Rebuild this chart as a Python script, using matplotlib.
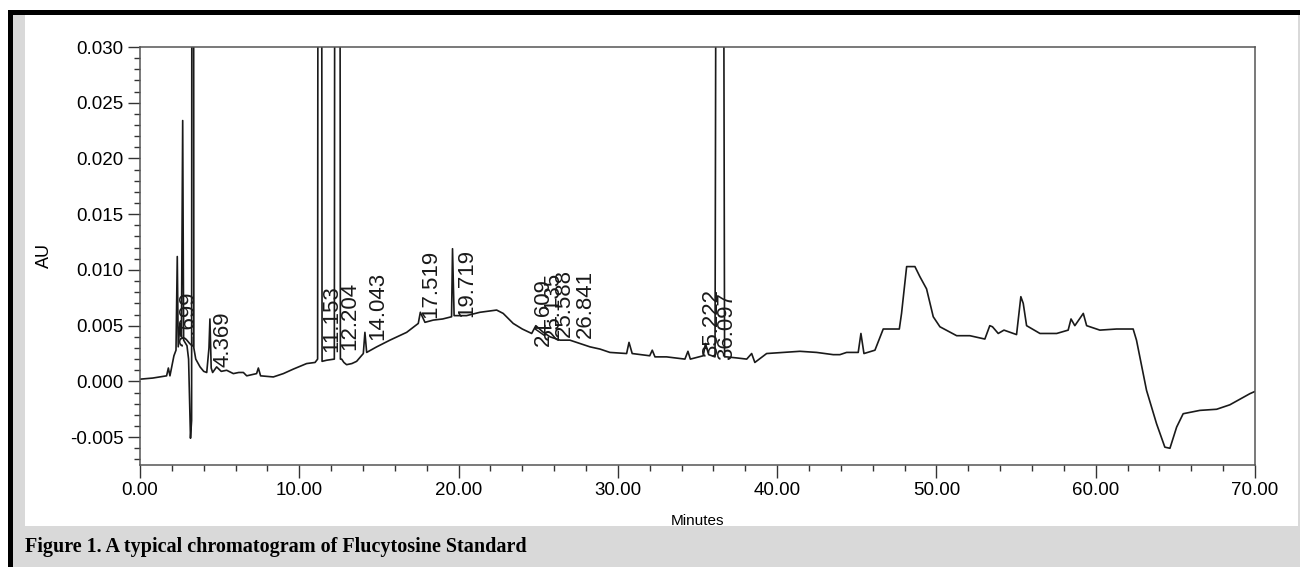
import numpy as np
import matplotlib
matplotlib.use('Agg')
import matplotlib.pyplot as plt
from matplotlib.patches import Rectangle
from matplotlib.ticker import MultipleLocator, FormatStrFormatter

#########################
#
# Chromatogram values
# (minutes, absorbance units); off-scale apexes are estimates
#
#########################

minutes = [0.00, 0.80, 1.67, 1.78, 1.88, 2.13, 2.26, 2.34, 2.40, 2.51,
           2.60, 2.68, 2.74, 2.95, 3.05, 3.17, 3.24, 3.31, 3.38, 3.50,
           3.77, 4.00, 4.19, 4.33, 4.39, 4.47, 4.56, 4.81, 5.10, 5.44,
           5.86, 6.20, 6.49, 6.70, 7.32, 7.43, 7.57, 8.37, 9.00, 9.62,
           10.46, 10.99, 11.15, 11.29, 11.43, 11.72, 12.20, 12.40, 12.58, 12.66,
           12.80, 12.97, 13.30, 13.60, 14.02, 14.12, 14.23, 14.86, 15.69, 16.74,
           17.47, 17.60, 17.89, 18.41, 19.00, 19.56, 19.62, 19.72, 20.50, 21.34,
           22.39, 22.80, 23.43, 24.00, 24.59, 24.85, 25.32, 25.74, 26.37, 26.99,
           27.62, 28.25, 28.88, 29.50, 30.55, 30.70, 30.90, 32.00, 32.16, 32.33,
           33.06, 34.21, 34.40, 34.55, 35.36, 35.50, 35.70, 36.10, 36.40, 36.70,
           36.83, 37.50, 38.09, 38.40, 38.60, 39.34, 40.38, 41.43, 42.48, 43.52,
           43.94, 44.36, 45.09, 45.26, 45.45, 46.14, 46.66, 47.67, 47.81, 48.13,
           48.65, 48.96, 49.38, 49.80, 50.22, 51.27, 52.10, 53.04, 53.35, 53.52,
           53.88, 54.24, 55.03, 55.30, 55.45, 55.66, 56.50, 57.55, 58.27, 58.45,
           58.69, 59.22, 59.43, 60.26, 61.31, 62.35, 62.56, 63.19, 63.82, 64.34,
           64.66, 65.08, 65.49, 66.54, 67.59, 68.42, 69.68, 70.00]

au = [0.0002, 0.0003, 0.0005, 0.0012, 0.0005, 0.0023, 0.0028, 0.0112, 0.0031, 0.0052,
      0.0040, 0.0234, 0.0037, 0.0032, 0.0020, -0.0051, -0.0035, 0.2000, 0.0030, 0.0020,
      0.0013, 0.0009, 0.0008, 0.0030, 0.0056, 0.0012, 0.0008, 0.0013, 0.0009, 0.0010,
      0.0007, 0.0008, 0.0008, 0.0005, 0.0007, 0.0012, 0.0005, 0.0004, 0.0007, 0.0011,
      0.0016, 0.0017, 0.0020, 0.2500, 0.0018, 0.0019, 0.0020, 0.3000, 0.0020, 0.0020,
      0.0017, 0.0015, 0.0016, 0.0018, 0.0025, 0.0044, 0.0026, 0.0031, 0.0037, 0.0044,
      0.0052, 0.0062, 0.0053, 0.0055, 0.0056, 0.0058, 0.0119, 0.0059, 0.0059, 0.0062,
      0.0064, 0.0061, 0.0052, 0.0047, 0.0043, 0.0050, 0.0044, 0.0040, 0.0037, 0.0037,
      0.0034, 0.0031, 0.0029, 0.0026, 0.0025, 0.0035, 0.0025, 0.0023, 0.0028, 0.0022,
      0.0022, 0.0020, 0.0027, 0.0020, 0.0023, 0.0034, 0.0024, 0.0022, 0.2000, 0.0022,
      0.0022, 0.0021, 0.0020, 0.0025, 0.0017, 0.0025, 0.0026, 0.0027, 0.0026, 0.0024,
      0.0024, 0.0026, 0.0026, 0.0043, 0.0025, 0.0028, 0.0047, 0.0047, 0.0061, 0.0103,
      0.0103, 0.0094, 0.0083, 0.0058, 0.0049, 0.0041, 0.0041, 0.0038, 0.0050, 0.0049,
      0.0043, 0.0046, 0.0042, 0.0076, 0.0070, 0.0050, 0.0043, 0.0043, 0.0046, 0.0056,
      0.0050, 0.0061, 0.0050, 0.0046, 0.0047, 0.0047, 0.0037, -0.0008, -0.0038, -0.0059,
      -0.0060, -0.0041, -0.0029, -0.0026, -0.0025, -0.0021, -0.0011, -0.0009]

# peak labels: retention time text, where the text sits (minutes, AU at text base)
label_text = ['2.699', '4.369', '11.153', '12.204', '14.043', '17.519', '19.719',
              '24.609', '25.135', '25.588', '26.841', '35.222', '36.097']
label_time = [3.01, 5.24, 12.05, 13.18, 14.94, 18.27, 20.50,
              25.30, 25.95, 26.65, 27.95, 35.90, 36.85]
label_au = [0.0032, 0.0013, 0.0026, 0.0028, 0.0037, 0.0057, 0.0058,
            0.0032, 0.0037, 0.0040, 0.0039, 0.0022, 0.0019]

caption = 'Figure 1. A typical chromatogram of Flucytosine Standard'

#########################
#
# Draw the figure
#
#########################

plt.rcParams['font.family'] = ['Liberation Sans', 'DejaVu Sans']

W, H = 1300, 567
fig = plt.figure(figsize=(W / 100, H / 100), dpi=100)
fig.patch.set_facecolor('white')

def frect(x0, y0, x1, y1, color):
    # rectangle in pixel coords of the page (y from the top)
    fig.patches.append(Rectangle((x0 / W, 1 - y1 / H), (x1 - x0) / W, (y1 - y0) / H,
                                 transform=fig.transFigure, color=color, lw=0, zorder=-5))

# page frame: black rule top/left, gray margin and caption bar
frect(8, 10, 1300, 15, 'black')
frect(8, 10, 13, 567, 'black')
frect(13, 15, 25, 526, '#d9d9d9')
frect(13, 526, 1300, 567, '#d9d9d9')
frect(1298, 15, 1300, 526, '#d9d9d9')

fig.text(25 / W, 1 - 547 / H, caption, family='Liberation Serif', weight='bold',
         fontsize=14.5, va='center', ha='left')

ax = fig.add_axes([140 / W, 1 - 465 / H, 1115 / W, 418 / H])
ax.plot(minutes, au, color='#1a1a1a', lw=1.2)

for txt, t, a in zip(label_text, label_time, label_au):
    ax.text(t, a, txt, rotation=90, ha='center', va='bottom', fontsize=16,
            color='#1a1a1a')

ax.set_xlim(0, 70)
ax.set_ylim(-0.0075, 0.030)
ax.xaxis.set_major_locator(MultipleLocator(10))
ax.xaxis.set_minor_locator(MultipleLocator(2))
ax.yaxis.set_major_locator(MultipleLocator(0.005))
ax.yaxis.set_minor_locator(MultipleLocator(0.001))
ax.xaxis.set_major_formatter(FormatStrFormatter('%.2f'))
ax.yaxis.set_major_formatter(FormatStrFormatter('%.3f'))
ax.tick_params(which='major', direction='out', length=9, width=1, color='#333',
               labelsize=13.5, pad=3)
ax.tick_params(which='minor', direction='out', length=4, width=1, color='#333')
for s in ax.spines.values():
    s.set_color('#555')
    s.set_linewidth(1.1)

ax.set_xlabel('Minutes', fontsize=11, labelpad=11)
ax.set_ylabel('AU', fontsize=13, labelpad=12)

fig.savefig('out.png', dpi=100)
